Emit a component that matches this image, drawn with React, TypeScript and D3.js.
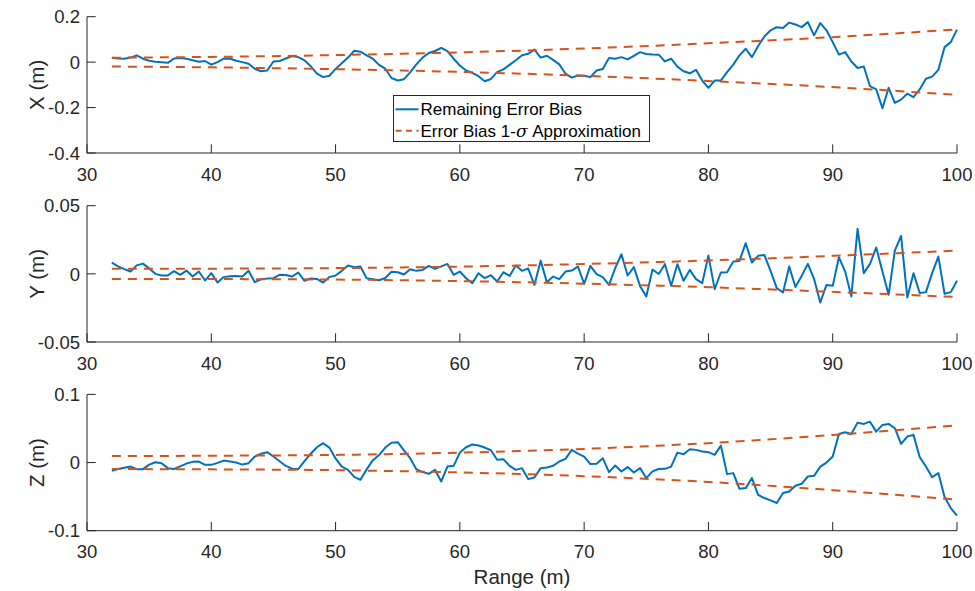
import React from "react";
import * as d3 from "d3";

// Range samples start at 32 m, 0.5 m apart (137 samples up to 100 m)
const RANGE_START = 32;
const RANGE_STEP = 0.5;

const X_BIAS = [
  0.019, 0.016, 0.015, 0.020, 0.030, 0.015, 0.006, 0.002, 0.000, -0.003,
  0.016, 0.018, 0.015, 0.008, 0.002, 0.005, -0.011, 0.000, 0.015, 0.016,
  0.006, 0.000, -0.007, -0.029, -0.040, -0.037, 0.003, 0.005, 0.016, 0.027,
  0.022, 0.008, -0.018, -0.051, -0.066, -0.060, -0.030, -0.005, 0.020, 0.050,
  0.046, 0.030, 0.015, -0.012, -0.029, -0.070, -0.081, -0.075, -0.045, -0.010,
  0.020, 0.040, 0.049, 0.063, 0.048, 0.015, -0.015, -0.037, -0.047, -0.062,
  -0.084, -0.074, -0.044, -0.032, -0.012, 0.008, 0.030, 0.037, 0.055, 0.020,
  0.028, 0.010, -0.010, -0.051, -0.068, -0.059, -0.060, -0.066, -0.037, -0.030,
  0.018, 0.015, 0.022, 0.012, 0.028, 0.044, 0.036, 0.034, 0.033, 0.003,
  0.015, -0.020, -0.040, -0.049, -0.034, -0.081, -0.113, -0.081, -0.081, -0.044,
  -0.011, 0.030, 0.059, 0.022, 0.071, 0.113, 0.140, 0.154, 0.150, 0.174,
  0.166, 0.154, 0.176, 0.118, 0.172, 0.140, 0.088, 0.033, 0.044, 0.003,
  -0.026, -0.019, -0.106, -0.120, -0.203, -0.113, -0.179, -0.165, -0.139, -0.154,
  -0.120, -0.073, -0.064, -0.034, 0.066, 0.088, 0.143,
];

const Y_BIAS = [
  0.0083, 0.0055, 0.0035, 0.0017, 0.0062, 0.0075, 0.0040, 0.0000, -0.0012, -0.0012,
  0.0020, -0.0007, 0.0024, -0.0020, 0.0017, -0.0049, 0.0005, -0.0064, -0.0024, -0.0017,
  -0.0016, -0.0020, 0.0022, -0.0061, -0.0040, -0.0035, -0.0032, -0.0007, -0.0008, -0.0020,
  0.0010, -0.0051, -0.0034, -0.0037, -0.0064, -0.0024, -0.0012, 0.0022, 0.0061, 0.0048,
  0.0054, -0.0033, -0.0040, -0.0047, -0.0030, 0.0015, 0.0012, -0.0005, 0.0034, 0.0022,
  0.0029, 0.0058, 0.0037, 0.0055, 0.0073, -0.0007, 0.0017, -0.0032, -0.0068, 0.0005,
  -0.0032, -0.0010, -0.0056, 0.0012, -0.0015, 0.0061, 0.0022, 0.0039, -0.0081, 0.0097,
  -0.0061, -0.0020, -0.0039, 0.0017, 0.0024, 0.0054, -0.0073, 0.0059, -0.0002, -0.0024,
  -0.0081, 0.0042, 0.0144, -0.0012, 0.0049, -0.0090, -0.0166, 0.0032, -0.0001, 0.0071,
  -0.0088, 0.0071, -0.0051, 0.0029, -0.0039, -0.0068, 0.0134, -0.0112, 0.0010, 0.0012,
  0.0090, 0.0095, 0.0225, 0.0083, 0.0132, 0.0139, 0.0022, -0.0105, -0.0137, 0.0054,
  -0.0097, -0.0015, 0.0073, -0.0037, -0.0210, -0.0081, -0.0088, 0.0122, 0.0017, -0.0166,
  0.0330, 0.0005, 0.0073, 0.0193, 0.0017, -0.0154, 0.0171, 0.0278, -0.0173, 0.0005,
  -0.0141, -0.0134, 0.0005, 0.0127, -0.0146, -0.0134, -0.0051,
];

const Z_BIAS = [
  -0.0122, -0.0095, -0.0075, -0.0059, -0.0097, -0.0097, -0.0030, 0.0005, -0.0009, -0.0082,
  -0.0095, -0.0055, -0.0015, 0.0010, 0.0015, -0.0034, -0.0034, -0.0005, 0.0029, 0.0015,
  0.0000, -0.0030, -0.0009, 0.0088, 0.0130, 0.0152, 0.0088, 0.0020, -0.0050, -0.0090,
  -0.0097, 0.0020, 0.0130, 0.0225, 0.0284, 0.0220, 0.0060, -0.0060, -0.0107, -0.0210,
  -0.0253, -0.0100, 0.0035, 0.0110, 0.0220, 0.0290, 0.0299, 0.0180, 0.0064, -0.0097,
  -0.0140, -0.0165, -0.0107, -0.0278, -0.0059, -0.0048, 0.0146, 0.0225, 0.0265, 0.0250,
  0.0220, 0.0180, 0.0040, 0.0050, -0.0048, -0.0107, -0.0082, -0.0243, -0.0220, -0.0082,
  -0.0073, -0.0048, 0.0015, 0.0054, 0.0186, 0.0130, 0.0088, -0.0023, -0.0019, 0.0064,
  -0.0141, -0.0044, -0.0132, -0.0067, -0.0146, -0.0082, -0.0228, -0.0130, -0.0095, -0.0092,
  -0.0059, 0.0146, 0.0123, 0.0196, 0.0186, 0.0161, 0.0152, 0.0113, 0.0249, -0.0170,
  -0.0155, -0.0385, -0.0375, -0.0228, -0.0473, -0.0521, -0.0556, -0.0594, -0.0448, -0.0425,
  -0.0341, -0.0312, -0.0205, -0.0195, -0.0059, 0.0000, 0.0088, 0.0420, 0.0445, 0.0420,
  0.0586, 0.0567, 0.0600, 0.0454, 0.0552, 0.0567, 0.0504, 0.0274, 0.0381, 0.0406,
  0.0079, -0.0059, -0.0214, -0.0155, -0.0507, -0.0668, -0.0780,
];

// 1-sigma approximation envelope, read at these ranges
const SIGMA_RANGE = [32, 40, 50, 60, 70, 80, 90, 100];
const X_SIGMA = [0.0195, 0.023, 0.031, 0.043, 0.060, 0.083, 0.110, 0.144];
const Y_SIGMA = [0.0037, 0.0038, 0.0042, 0.0053, 0.0072, 0.0098, 0.0132, 0.0170];
const Z_SIGMA = [0.0095, 0.0100, 0.0112, 0.0145, 0.0200, 0.0285, 0.0405, 0.0545];

const RANGE_TICKS = [30, 40, 50, 60, 70, 80, 90, 100];
const X_TICKS = [0.2, 0, -0.2, -0.4];
const X_TICK_LABELS = ["0.2", "0", "-0.2", "-0.4"];
const Y_TICKS = [0.05, 0, -0.05];
const Y_TICK_LABELS = ["0.05", "0", "-0.05"];
const Z_TICKS = [0.1, 0, -0.1];
const Z_TICK_LABELS = ["0.1", "0", "-0.1"];

const BLUE = "#0072BD";
const ORANGE = "#D95319";
const AXIS = "#262626";
const FONT = "'Liberation Sans', Arial, Helvetica, sans-serif";

const W = 975;
const H = 591;
const LEFT = 87;
const RIGHT = 957;
const PH = 136.3;
const TICK_LEN = 8.7;

type PanelProps = {
  top: number;
  values: number[];
  sigma: number[];
  domain: [number, number];
  ticks: number[];
  tickLabels: string[];
  label: string;
};

function Panel({ top, values, sigma, domain, ticks, tickLabels, label }: PanelProps) {
  const x = d3.scaleLinear().domain([30, 100]).range([LEFT, RIGHT]);
  const y = d3.scaleLinear().domain(domain).range([top + PH, top]);
  const bias = d3
    .line<number>()
    .x((_, i) => x(RANGE_START + i * RANGE_STEP))
    .y((d) => y(d));
  const env = d3
    .line<number>()
    .x((_, i) => x(SIGMA_RANGE[i]))
    .y((d) => y(d))
    .curve(d3.curveMonotoneX);
  const bottom = top + PH;
  return (
    <g>
      <path d={bias(values) || ""} fill="none" stroke={BLUE} strokeWidth={2} strokeLinejoin="round" />
      <path d={env(sigma) || ""} fill="none" stroke={ORANGE} strokeWidth={2} strokeDasharray="9,7" />
      <path d={env(sigma.map((s) => -s)) || ""} fill="none" stroke={ORANGE} strokeWidth={2} strokeDasharray="9,7" />
      {/* axes */}
      <line x1={LEFT} x2={LEFT} y1={top} y2={bottom} stroke={AXIS} strokeWidth={1} />
      <line x1={LEFT} x2={RIGHT} y1={bottom} y2={bottom} stroke={AXIS} strokeWidth={1} />
      {ticks.map((t, i) => (
        <g key={"y" + i}>
          <line x1={LEFT} x2={LEFT + TICK_LEN} y1={y(t)} y2={y(t)} stroke={AXIS} strokeWidth={1} />
          <text x={LEFT - 7} y={y(t)} dy="0.36em" textAnchor="end" fontSize={18.5} fill={AXIS} fontFamily={FONT}>
            {tickLabels[i]}
          </text>
        </g>
      ))}
      {RANGE_TICKS.map((t) => (
        <g key={"x" + t}>
          <line x1={x(t)} x2={x(t)} y1={bottom} y2={bottom - TICK_LEN} stroke={AXIS} strokeWidth={1} />
          <text x={x(t)} y={bottom + 21} dy="0.36em" textAnchor="middle" fontSize={18.5} fill={AXIS} fontFamily={FONT}>
            {t}
          </text>
        </g>
      ))}
      <text
        transform={`translate(37,${top + PH / 2}) rotate(-90)`}
        textAnchor="middle"
        dy="0.36em"
        fontSize={20.5}
        fill={AXIS}
        fontFamily={FONT}
      >
        {label}
      </text>
    </g>
  );
}

export default function App() {
  return (
    <svg
      width={W}
      height={H}
      viewBox={`0 0 ${W} ${H}`}
      style={{ position: "absolute", left: 0, top: 0, display: "block", background: "#fff" }}
    >
      <rect x={0} y={0} width={W} height={H} fill="#fff" />
      <Panel top={16.7} values={X_BIAS} sigma={X_SIGMA} domain={[-0.4, 0.2]} ticks={X_TICKS} tickLabels={X_TICK_LABELS} label="X (m)" />
      <Panel top={205.7} values={Y_BIAS} sigma={Y_SIGMA} domain={[-0.05, 0.05]} ticks={Y_TICKS} tickLabels={Y_TICK_LABELS} label="Y (m)" />
      <Panel top={394.4} values={Z_BIAS} sigma={Z_SIGMA} domain={[-0.1, 0.1]} ticks={Z_TICKS} tickLabels={Z_TICK_LABELS} label="Z (m)" />
      <text x={(LEFT + RIGHT) / 2} y={577} dy="0.36em" textAnchor="middle" fontSize={20.5} fill={AXIS} fontFamily={FONT}>
        Range (m)
      </text>
      {/* legend */}
      <g>
        <rect x={393.5} y={95.5} width={256} height={46} fill="#fff" stroke={AXIS} strokeWidth={1} />
        <line x1={395.5} x2={418.5} y1={109.3} y2={109.3} stroke={BLUE} strokeWidth={2} />
        <text x={420.5} y={109.3} dy="0.36em" fontSize={17} fill="#000" fontFamily={FONT}>
          Remaining Error Bias
        </text>
        <line x1={395.5} x2={418.5} y1={130.7} y2={130.7} stroke={ORANGE} strokeWidth={2} strokeDasharray="6,4.5" />
        <text x={420.5} y={130.7} dy="0.36em" fontSize={17} fill="#000" fontFamily={FONT}>
          Error Bias 1-
          <tspan fontStyle="italic" fontFamily="'DejaVu Serif', 'Liberation Serif', serif">σ</tspan> Approximation
        </text>
      </g>
    </svg>
  );
}
